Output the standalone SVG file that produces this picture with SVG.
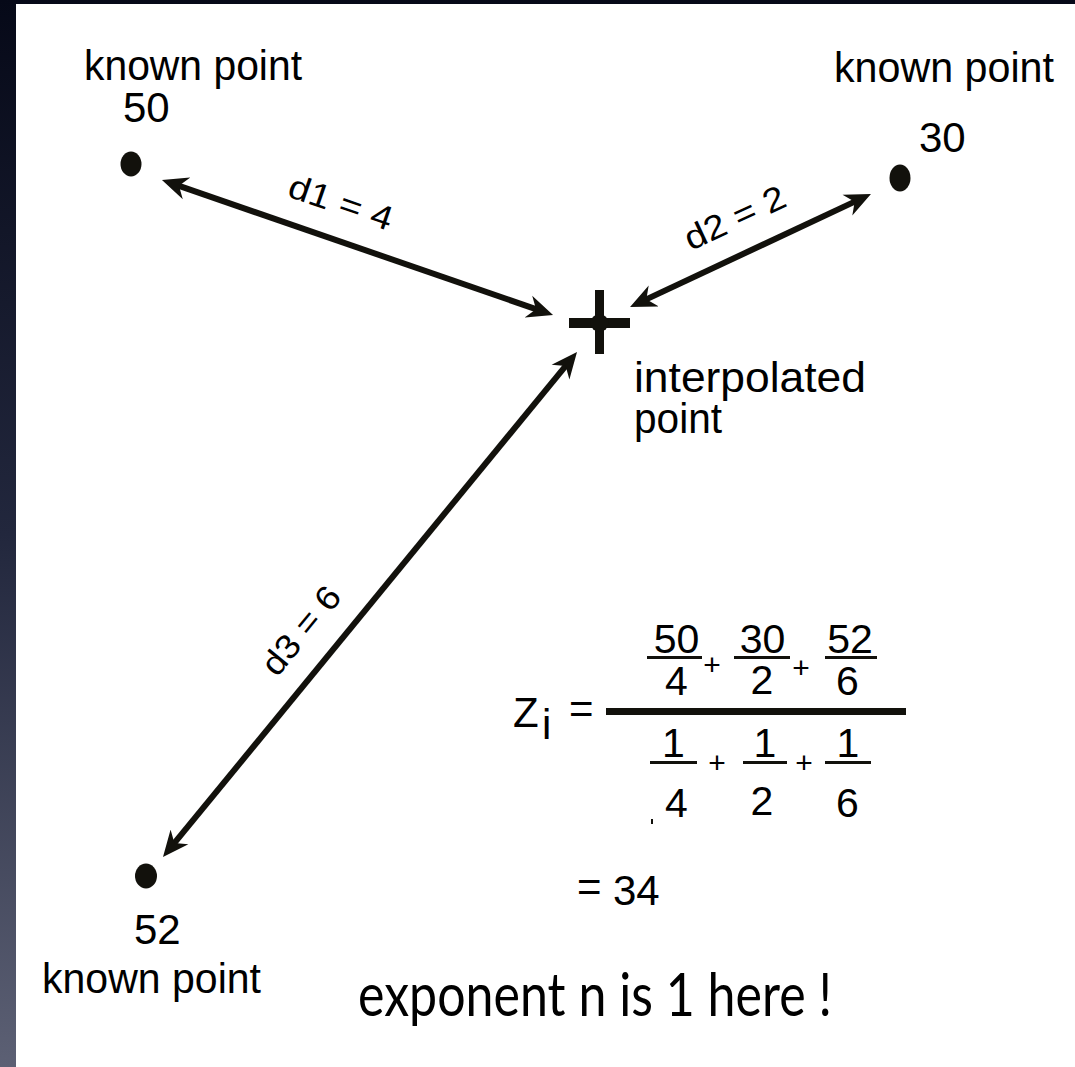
<svg xmlns="http://www.w3.org/2000/svg" width="1075" height="1067" viewBox="0 0 1075 1067">
  <defs>
    <linearGradient id="bg" x1="0" y1="0" x2="0" y2="1">
      <stop offset="0" stop-color="#060918"/>
      <stop offset="0.5" stop-color="#22273d"/>
      <stop offset="1" stop-color="#5c6074"/>
    </linearGradient>
    <marker id="ah" viewBox="0 0 26 24" refX="14" refY="12" markerWidth="26" markerHeight="24" markerUnits="userSpaceOnUse" orient="auto-start-reverse">
      <path d="M26,12 L0,0.5 L8,12 L0,23.5 Z" fill="#12110c"/>
    </marker>
  </defs>
  <style>
    .lbl { font-family: "Liberation Sans", Arial, sans-serif; font-size: 42px; fill: #000; }
    .dist { font-family: "Liberation Sans", Arial, sans-serif; font-size: 34px; fill: #000; }
    .num { font-family: "Liberation Sans", Arial, sans-serif; font-size: 41px; fill: #000; text-anchor: middle; }
    .op { font-family: "Liberation Sans", Arial, sans-serif; font-size: 30px; fill: #000; text-anchor: middle; }
    .big { font-family: "Gill Sans", "Lato", "Liberation Sans", sans-serif; font-size: 60px; fill: #000; }
    .dot { fill: #12110c; }
    .conn line { stroke: #12110c; stroke-width: 6; marker-start: url(#ah); marker-end: url(#ah); }
    .bar { fill: #12110c; }
  </style>

  <rect x="0" y="0" width="1075" height="1067" fill="url(#bg)"/>
  <rect x="16" y="4" width="1059" height="1063" fill="#ffffff"/>

  <g id="connectors" class="conn">
    <line x1="173.3" y1="183.9" x2="541.7" y2="311.1"/>
    <line x1="640.9" y1="301.9" x2="860.1" y2="199.1"/>
    <line x1="569.4" y1="361.3" x2="170.6" y2="847.7"/>
  </g>

  <g id="distance-labels">
    <text class="dist" x="340" y="214" text-anchor="middle" textLength="108" lengthAdjust="spacingAndGlyphs" transform="rotate(19 340 205)">d1 = 4</text>
    <text class="dist" x="736" y="229" text-anchor="middle" textLength="108" lengthAdjust="spacingAndGlyphs" transform="rotate(-25 736 220)">d2 = 2</text>
    <text class="dist" x="303" y="641" text-anchor="middle" textLength="104" lengthAdjust="spacingAndGlyphs" transform="rotate(-50.6 303 632)">d3 = 6</text>
  </g>

  <g id="point-50">
    <ellipse class="dot" cx="131" cy="164" rx="10.5" ry="12.5"/>
    <text class="lbl" x="84" y="80" textLength="218" lengthAdjust="spacingAndGlyphs">known point</text>
    <text class="lbl" x="123" y="122">50</text>
  </g>

  <g id="point-30">
    <ellipse class="dot" cx="900" cy="178" rx="10.5" ry="13.5"/>
    <text class="lbl" x="834" y="82" textLength="220" lengthAdjust="spacingAndGlyphs">known point</text>
    <text class="lbl" x="919" y="152">30</text>
  </g>

  <g id="point-52">
    <ellipse class="dot" cx="146" cy="876" rx="11" ry="12.5"/>
    <text class="lbl" x="134" y="944">52</text>
    <text class="lbl" x="42" y="993" textLength="219" lengthAdjust="spacingAndGlyphs">known point</text>
  </g>

  <g id="interpolated-point">
    <rect class="bar" x="595" y="290" width="9" height="64"/>
    <rect class="bar" x="569" y="318" width="61" height="10"/>
    <circle class="bar" cx="599.5" cy="323" r="9"/>
    <text class="lbl" x="634" y="392" textLength="232" lengthAdjust="spacingAndGlyphs">interpolated</text>
    <text class="lbl" x="634" y="433" textLength="88" lengthAdjust="spacingAndGlyphs">point</text>
  </g>

  <g id="formula">
    <text class="lbl" x="513" y="727" font-size="45">Z</text>
    <text class="lbl" x="542" y="739" font-size="28">i</text>
    <text class="lbl" x="569" y="723" font-size="30">=</text>
    <rect class="bar" x="606" y="708" width="300" height="7"/>

    <text class="num" x="676.5" y="653">50</text>
    <rect class="bar" x="647" y="656" width="55" height="3"/>
    <text class="num" x="676.5" y="695">4</text>
    <text class="op" x="712" y="675">+</text>
    <text class="num" x="762.5" y="653">30</text>
    <rect class="bar" x="734" y="656" width="56" height="3"/>
    <text class="num" x="762" y="694">2</text>
    <text class="op" x="801" y="678">+</text>
    <text class="num" x="850" y="653">52</text>
    <rect class="bar" x="825" y="656" width="52" height="3"/>
    <text class="num" x="847.5" y="695">6</text>

    <text class="num" x="673.5" y="757">1</text>
    <rect class="bar" x="650" y="761" width="47" height="3"/>
    <text class="num" x="676.5" y="817">4</text>
    <text class="op" x="717" y="773">+</text>
    <text class="num" x="765" y="757">1</text>
    <rect class="bar" x="743" y="761" width="44" height="3"/>
    <text class="num" x="762" y="815">2</text>
    <text class="op" x="804" y="773">+</text>
    <text class="num" x="848" y="757">1</text>
    <rect class="bar" x="825" y="761" width="46" height="3"/>
    <text class="num" x="847.5" y="817">6</text>
    <rect class="bar" x="651" y="819" width="2" height="5"/>

    <text class="lbl" x="577" y="901" font-size="30">=</text>
    <text class="lbl" x="613" y="905" font-size="46">34</text>
  </g>

  <text id="note" class="big" x="358" y="1016" textLength="474" lengthAdjust="spacingAndGlyphs">exponent n is 1 here !</text>
</svg>
